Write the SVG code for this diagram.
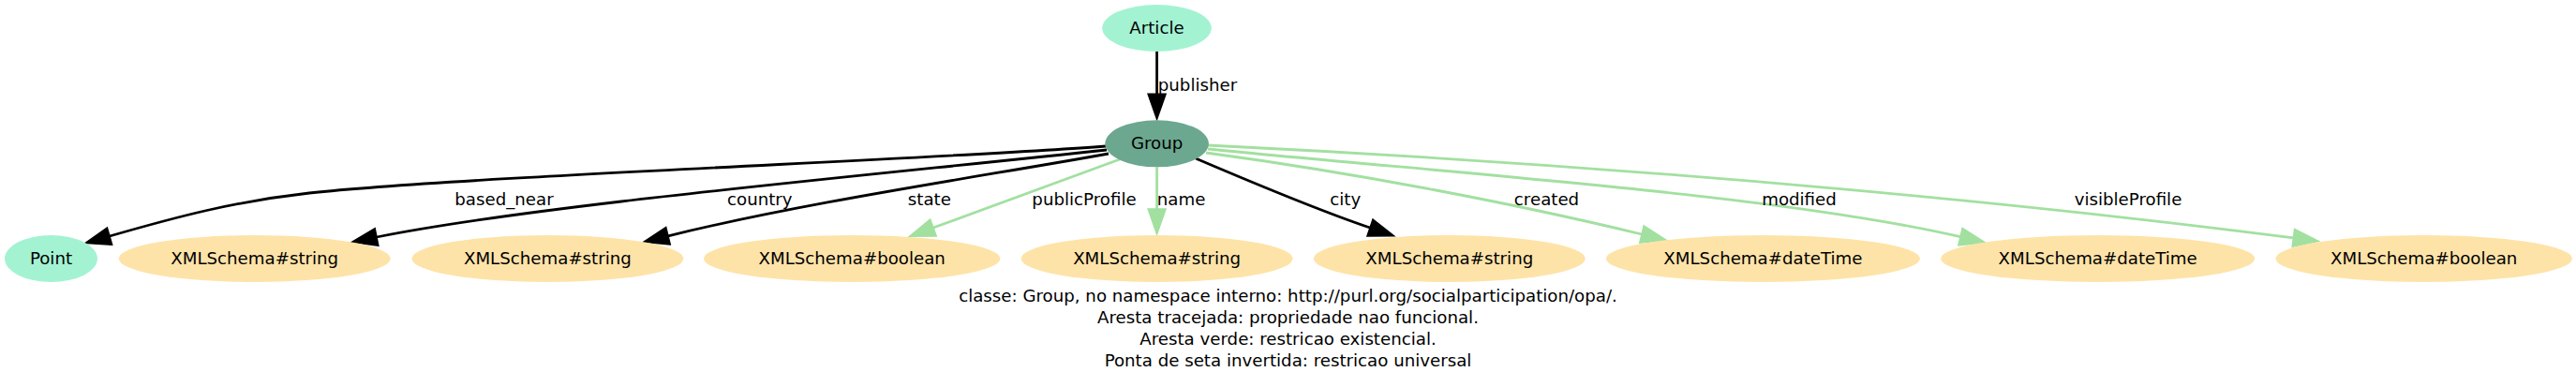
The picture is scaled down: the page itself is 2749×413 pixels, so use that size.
<svg xmlns="http://www.w3.org/2000/svg" width="2749" height="413" viewBox="0 0 2749 413">
<style>
text{font-family:"DejaVu Sans","Liberation Sans",sans-serif;font-size:18.2px;fill:#000}
.n text{text-anchor:middle}
.cls{fill:#a3f3d3}
.grp{fill:#6ca88f}
.lit{fill:#fee3a8}
.e{fill:none;stroke-width:2.8}
.blk{stroke:#000;marker-end:url(#ab)}
.grn{stroke:#a2e0a0;marker-end:url(#ag)}
.lbl{text-anchor:middle}
.foot{text-anchor:middle}
</style>
<defs>
<marker id="ab" markerUnits="userSpaceOnUse" viewBox="0 -12 32 24" refX="0" refY="0" markerWidth="32" markerHeight="24" orient="auto" overflow="visible"><path d="M0,-9.5 L27,0 L0,9.5 Z" fill="#000" stroke="#000" stroke-width="1.5"/></marker>
<marker id="ag" markerUnits="userSpaceOnUse" viewBox="0 -12 32 24" refX="0" refY="0" markerWidth="32" markerHeight="24" orient="auto" overflow="visible"><path d="M0,-9.5 L27,0 L0,9.5 Z" fill="#a2e0a0" stroke="#a2e0a0" stroke-width="1.5"/></marker>
</defs>
<rect width="2749" height="413" fill="#fff"/>
<g id="edges">
<path class="e blk" d="M1234.6,55 L1234.6,100.3"/>
<path class="e blk" d="M1180,156 C1000,170 500,188 330,206 C250,215 190,231 117,252"/>
<path class="e blk" d="M1181,160 C900,190 568.6,219.7 402,253"/>
<path class="e blk" d="M1183,164 C1050,188 858.5,215.8 713,251.8"/>
<path class="e grn" d="M1195,170 L996,243"/>
<path class="e grn" d="M1234.6,178.3 L1234.6,223"/>
<path class="e blk" d="M1276,169 C1330,192 1400,222 1462,243"/>
<path class="e grn" d="M1287,163 C1450,185 1620,218 1752,250"/>
<path class="e grn" d="M1289,159 C1560,186 1897,207.7 2092,252.7"/>
<path class="e grn" d="M1289,155 C1800,180 2200,222 2447.4,253.9"/>
<text class="lbl" x="1278" y="96.5">publisher</text>
<text class="lbl" x="538" y="218.5">based_near</text>
<text class="lbl" x="810.8" y="218.5">country</text>
<text class="lbl" x="991.9" y="218.5">state</text>
<text class="lbl" x="1157" y="218.5">publicProfile</text>
<text class="lbl" x="1260.6" y="218.5">name</text>
<text class="lbl" x="1435.7" y="218.5">city</text>
<text class="lbl" x="1650.5" y="218.5">created</text>
<text class="lbl" x="1920" y="218.5">modified</text>
<text class="lbl" x="2271" y="218.5">visibleProfile</text>
</g>
<g id="n-article" class="n"><ellipse class="cls" cx="1234.5" cy="30" rx="58.3" ry="25"/><text x="1234.5" y="35.5">Article</text></g>
<g id="n-group" class="n"><ellipse class="grp" cx="1234.6" cy="153.3" rx="55.3" ry="25"/><text x="1234.6" y="158.8">Group</text></g>
<g id="n-point" class="n"><ellipse class="cls" cx="54.5" cy="276" rx="49.5" ry="25"/><text x="54.5" y="281.5">Point</text></g>
<g id="n-string1" class="n"><ellipse class="lit" cx="271.7" cy="276" rx="145" ry="25"/><text x="271.7" y="281.5">XMLSchema#string</text></g>
<g id="n-string2" class="n"><ellipse class="lit" cx="584.4" cy="276" rx="145" ry="25"/><text x="584.4" y="281.5">XMLSchema#string</text></g>
<g id="n-boolean1" class="n"><ellipse class="lit" cx="909.2" cy="276" rx="158.3" ry="25"/><text x="909.2" y="281.5">XMLSchema#boolean</text></g>
<g id="n-string3" class="n"><ellipse class="lit" cx="1234.6" cy="276" rx="145" ry="25"/><text x="1234.6" y="281.5">XMLSchema#string</text></g>
<g id="n-string4" class="n"><ellipse class="lit" cx="1546.8" cy="276" rx="145" ry="25"/><text x="1546.8" y="281.5">XMLSchema#string</text></g>
<g id="n-datetime1" class="n"><ellipse class="lit" cx="1881.4" cy="276" rx="167.6" ry="25"/><text x="1881.4" y="281.5">XMLSchema#dateTime</text></g>
<g id="n-datetime2" class="n"><ellipse class="lit" cx="2238.7" cy="276" rx="167.6" ry="25"/><text x="2238.7" y="281.5">XMLSchema#dateTime</text></g>
<g id="n-boolean2" class="n"><ellipse class="lit" cx="2586.7" cy="276" rx="158.3" ry="25"/><text x="2586.7" y="281.5">XMLSchema#boolean</text></g>
<g id="caption">
<text class="foot" x="1374.5" y="322">classe: Group, no namespace interno: http://purl.org/socialparticipation/opa/.</text>
<text class="foot" x="1374.5" y="345">Aresta tracejada: propriedade nao funcional.</text>
<text class="foot" x="1374.5" y="367.8">Aresta verde: restricao existencial.</text>
<text class="foot" x="1374.5" y="390.6">Ponta de seta invertida: restricao universal</text>
</g>
</svg>
